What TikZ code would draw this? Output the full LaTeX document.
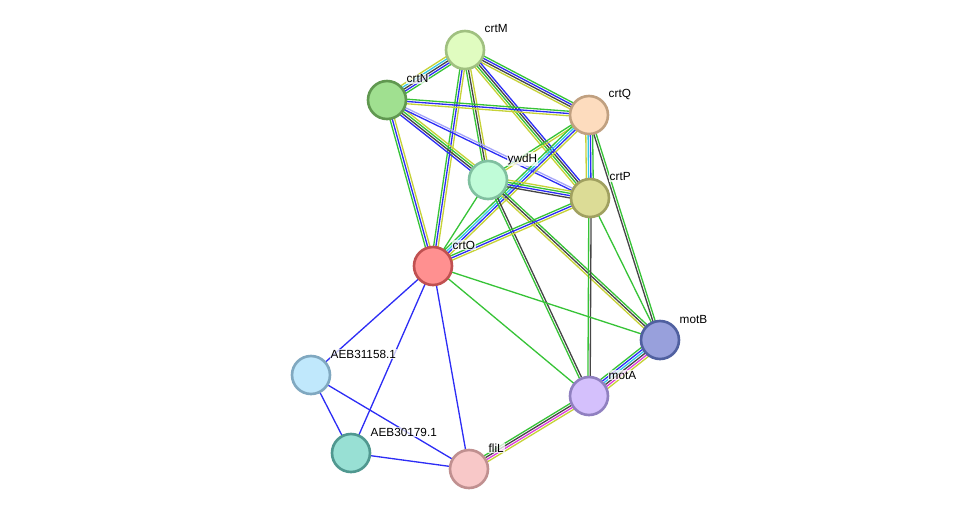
\documentclass[tikz,border=0pt]{standalone}
\usepackage{fontspec}
\setmainfont{Liberation Sans}
\usetikzlibrary{calc, backgrounds}

\definecolor{strgreen}{RGB}{55,195,55}
\definecolor{strblue}{RGB}{45,45,245}
\definecolor{strblack}{RGB}{70,70,70}
\definecolor{stryellow}{RGB}{198,210,55}
\definecolor{strcyan}{RGB}{50,200,230}
\definecolor{strmagenta}{RGB}{220,60,220}
\definecolor{strlav}{RGB}{165,165,250}

% one parallel line per evidence colour
\newcommand{\strlink}[3]{%
  \foreach \c [count=\n] in {#3} {\xdef\nlines{\n}}%
  \foreach \c [count=\n] in {#3} {%
    \pgfmathsetmacro\off{(\n-(\nlines+1)/2)*1.3}%
    \draw[edge, color=\c] ($(#1.center)!\off pt!90:(#2.center)$) -- ($(#2.center)!\off pt!-90:(#1.center)$);
  }%
}

\begin{document}
\begin{tikzpicture}[x=0.02cm, y=-0.02cm,
  prot/.style={circle, minimum size=0.76cm, inner sep=0pt, line width=1.5pt},
  edge/.style={line width=0.75pt},
  nlab/.style={shift={(-2,-21)}},
  every label/.style={font=\fontsize{6.7}{8}\selectfont, inner sep=0.6pt, fill=white, fill opacity=0.75, text opacity=1}]
  \useasboundingbox (0,0) rectangle (975,515);

  \node[prot, fill={rgb,255:red,224;green,252;blue,192}, draw={rgb,255:red,160;green,192;blue,128}, label={[nlab]0:crtM}] (crtM) at (465,50) {};
  \node[prot, fill={rgb,255:red,160;green,224;blue,144}, draw={rgb,255:red,96;green,152;blue,80}, label={[nlab]0:crtN}] (crtN) at (387,100) {};
  \node[prot, fill={rgb,255:red,253;green,220;blue,190}, draw={rgb,255:red,192;green,160;blue,128}, label={[nlab]0:crtQ}] (crtQ) at (589,115) {};
  \node[prot, fill={rgb,255:red,192;green,252;blue,216}, draw={rgb,255:red,128;green,192;blue,160}, label={[nlab]0:ywdH}] (ywdH) at (488,180) {};
  \node[prot, fill={rgb,255:red,220;green,220;blue,150}, draw={rgb,255:red,160;green,160;blue,96}, label={[nlab]0:crtP}] (crtP) at (590,198) {};
  \node[prot, fill={rgb,255:red,255;green,144;blue,144}, draw={rgb,255:red,192;green,80;blue,80}, label={[nlab]0:crtO}] (crtO) at (433,266) {};
  \node[prot, fill={rgb,255:red,152;green,160;blue,220}, draw={rgb,255:red,80;green,96;blue,160}, label={[nlab]0:motB}] (motB) at (660,340) {};
  \node[prot, fill={rgb,255:red,192;green,232;blue,252}, draw={rgb,255:red,128;green,168;blue,192}, label={[nlab]0:AEB31158.1}] (aeb1) at (311,375) {};
  \node[prot, fill={rgb,255:red,212;green,192;blue,252}, draw={rgb,255:red,144;green,128;blue,192}, label={[nlab]0:motA}] (motA) at (589,396) {};
  \node[prot, fill={rgb,255:red,152;green,224;blue,212}, draw={rgb,255:red,80;green,152;blue,144}, label={[nlab]0:AEB30179.1}] (aeb2) at (351,453) {};
  \node[prot, fill={rgb,255:red,248;green,200;blue,200}, draw={rgb,255:red,192;green,144;blue,144}, label={[nlab]0:fliL}] (fliL) at (469,469) {};

  \begin{pgfonlayer}{background}
    \strlink{crtM}{crtN}{stryellow, strcyan, strblack, strblue, strgreen}
    \strlink{crtM}{crtQ}{stryellow, strblack, strblue, strgreen}
    \strlink{crtM}{ywdH}{strgreen, strblack, stryellow}
    \strlink{crtM}{crtP}{stryellow, strgreen, strblack, strblue}
    \strlink{crtM}{crtO}{strgreen, strblue, stryellow}
    \strlink{crtN}{crtQ}{stryellow, strblue, strgreen}
    \strlink{crtN}{ywdH}{strblue, strblack, strgreen, stryellow}
    \strlink{crtN}{crtP}{strblue, strlav}
    \strlink{crtN}{crtO}{strgreen, strblue, stryellow}
    \strlink{crtQ}{crtP}{stryellow, strcyan, strblue, strgreen}
    \strlink{crtQ}{ywdH}{strgreen, stryellow}
    \strlink{crtQ}{crtO}{strgreen, strcyan, strblue, stryellow}
    \strlink{crtQ}{motB}{strblack, strgreen}
    \strlink{ywdH}{crtP}{strblack, strblue, strgreen, stryellow}
    \strlink{ywdH}{crtO}{strgreen}
    \strlink{ywdH}{motA}{strgreen, strblack}
    \strlink{ywdH}{motB}{stryellow, strblack, strgreen}
    \strlink{crtP}{crtO}{strgreen, strblue, stryellow}
    \strlink{crtP}{motA}{strgreen, strblack}
    \strlink{crtP}{motB}{strgreen}
    \strlink{crtO}{motB}{strgreen}
    \strlink{crtO}{motA}{strgreen}
    \strlink{crtO}{aeb1}{strblue}
    \strlink{crtO}{aeb2}{strblue}
    \strlink{crtO}{fliL}{strblue}
    \strlink{aeb1}{aeb2}{strblue}
    \strlink{aeb1}{fliL}{strblue}
    \strlink{aeb2}{fliL}{strblue}
    \strlink{motA}{motB}{stryellow, strmagenta, strblack, strcyan, strblue, strgreen}
    \strlink{fliL}{motA}{stryellow, strmagenta, strblack, strgreen}
  \end{pgfonlayer}
\end{tikzpicture}
\end{document}
